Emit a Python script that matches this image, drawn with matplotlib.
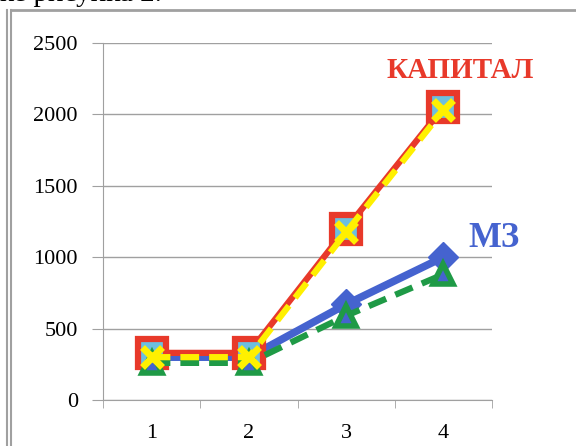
import matplotlib.pyplot as plt
from matplotlib.lines import Line2D

plt.rcParams['font.family'] = ['Liberation Serif', 'DejaVu Serif']

periods = [1, 2, 3, 4]
period_labels = ['1', '2', '3', '4']
capital = [330, 330, 1200, 2050]      # red, square markers
capital2 = [300, 300, 1175, 2030]     # yellow dashed, x markers
mz = [300, 300, 670, 1000]            # blue, diamonds
mz2 = [260, 260, 590, 880]            # green dashed, triangles
yticks = [0, 500, 1000, 1500, 2000, 2500]

W, H = 576, 446
fig = plt.figure(figsize=(W / 100, H / 100), dpi=100)
ax = fig.add_axes([103 / W, 46 / H, 389 / W, 357 / H])

# frame of the pasted picture
fig.add_artist(Line2D([12 / W, 1], [1 - 10 / H] * 2, color='#a0a0a0', lw=2))
fig.add_artist(Line2D([7 / W] * 2, [0, 1 - 10 / H], color='#a0a0a0', lw=1.5))
fig.add_artist(Line2D([11 / W] * 2, [0, 1 - 10 / H], color='#a0a0a0', lw=1.5))
fig.text(0.0, 1 - 1 / H, 'ке рисунка 2.', fontsize=21, va='baseline', ha='left')

ax.plot(periods, mz, color='#4563cf', lw=5.5, marker='D', ms=15,
        mfc='#4563cf', mec='#4563cf', zorder=3)
ax.plot(periods, capital, color='#e8392a', lw=4.5, marker='s', ms=20,
        mfc='#6cbfe0', mec='#e8392a', mew=4.5, zorder=4)
ax.plot(periods, mz2, color='#1f9a46', lw=4.5, ls=(0, (3, 1.6)), marker='^',
        ms=14, mfc='#4563cf', mec='#1f9a46', mew=4, zorder=5)
ax.plot(periods, capital2, color='#fff000', lw=4.5, ls=(0, (3, 1.6)), marker='x',
        ms=15, mec='#fff000', mew=5, zorder=6)

ax.text(4.17, 2310, 'КАПИТАЛ', color='#e8392a', fontsize=21, fontweight='bold',
        ha='center', va='center')
ax.text(4.52, 1130, 'МЗ', color='#4563cf', fontsize=25, fontweight='bold',
        ha='center', va='center')

ax.set_xlim(0.5, 4.5)
ax.set_ylim(0, 2500)
ax.set_yticks(yticks)
ax.set_xticks(periods)
ax.set_xticklabels(period_labels)
ax.set_xticks([0.5, 1.5, 2.5, 3.5, 4.5], minor=True)
ax.tick_params(axis='x', which='major', length=0, pad=17, labelsize=16)
ax.tick_params(axis='x', which='minor', length=6, color='#a0a0a0')
ax.tick_params(axis='y', length=8, color='#a0a0a0', labelsize=16, pad=10)
ax.grid(axis='y', color='#a0a0a0', lw=1)
ax.set_axisbelow(True)
for s in ['top', 'right']:
    ax.spines[s].set_visible(False)
for s in ['left', 'bottom']:
    ax.spines[s].set_color('#a0a0a0')
for line in ax.get_lines():
    line.set_clip_on(False)

fig.savefig('out.png', dpi=100)
